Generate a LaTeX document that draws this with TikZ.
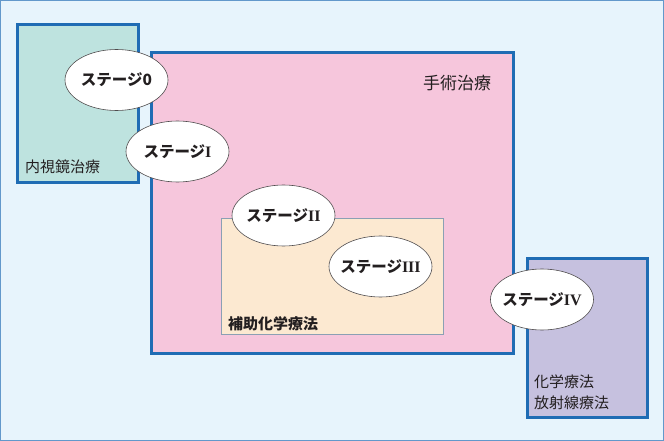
\documentclass[tikz,border=0pt]{standalone}
\usepackage{fontspec}
\setmainfont{Noto Sans CJK JP}
\newfontfamily\numfont{Liberation Serif}
\usetikzlibrary{positioning,shapes.geometric}

\definecolor{bgblue}{HTML}{E7F4FC}
\definecolor{lineblue}{HTML}{1F6CB4}
\definecolor{teal}{HTML}{BEE3DF}
\definecolor{pink}{HTML}{F6C6DC}
\definecolor{beige}{HTML}{FCE9D1}
\definecolor{lilac}{HTML}{C6C1DF}
\definecolor{ink}{HTML}{231F20}

\newcommand{\stagenum}[1]{{\numfont\bfseries\fontsize{16}{17}\selectfont #1}}

\begin{document}
\begin{tikzpicture}[x=1pt,y=-1pt,
    area/.style={draw=lineblue, line width=3pt},
    stage/.style={ellipse, draw=ink!80, line width=0.6pt, fill=white,
        minimum width=103pt, minimum height=61pt, inner xsep=-15pt, inner ysep=0pt,
        font=\fontsize{15.5}{17}\selectfont\bfseries, text=ink},
    caption/.style={font=\fontsize{15}{21}\selectfont, text=ink, inner sep=0pt}
]
\useasboundingbox (0,0) rectangle (664,441);
% background
\draw[fill=bgblue, draw=lineblue!70, line width=0.8pt] (0.4,0.4) rectangle (663.6,440.6);

% treatment areas
\draw[area, fill=teal] (17,25) rectangle (138,182);
\draw[area, fill=pink] (151,53) rectangle (513,353);
\draw[fill=beige, draw=lineblue!40!gray!70, line width=0.8pt] (221,218) rectangle (443,334);
\draw[area, fill=lilac] (527,258) rectangle (647,417);

% area labels
\node[caption, anchor=west] (endo) at (25,167) {内視鏡治療};
\node[caption, font=\fontsize{17}{20}\selectfont] (surg) at (457,83) {手術治療};
\node[caption, anchor=west, font=\fontsize{15}{17}\selectfont\bfseries] (adj) at (228,324) {補助化学療法};
\node[caption, anchor=west, align=left] (chemo) at (534,392) {化学療法\\放射線療法};

% stages
\node[stage] (s0) at (116.5,80) {ステージ0};
\node[stage] (s1) at (177.5,151.5) {ステージ\stagenum{I}};
\node[stage] (s2) at (283.5,215.5) {ステージ\stagenum{II}};
\node[stage] (s3) at (380.5,266.5) {ステージ\stagenum{III}};
\node[stage] (s4) at (542,299.5) {ステージ\stagenum{IV}};
\end{tikzpicture}
\end{document}
